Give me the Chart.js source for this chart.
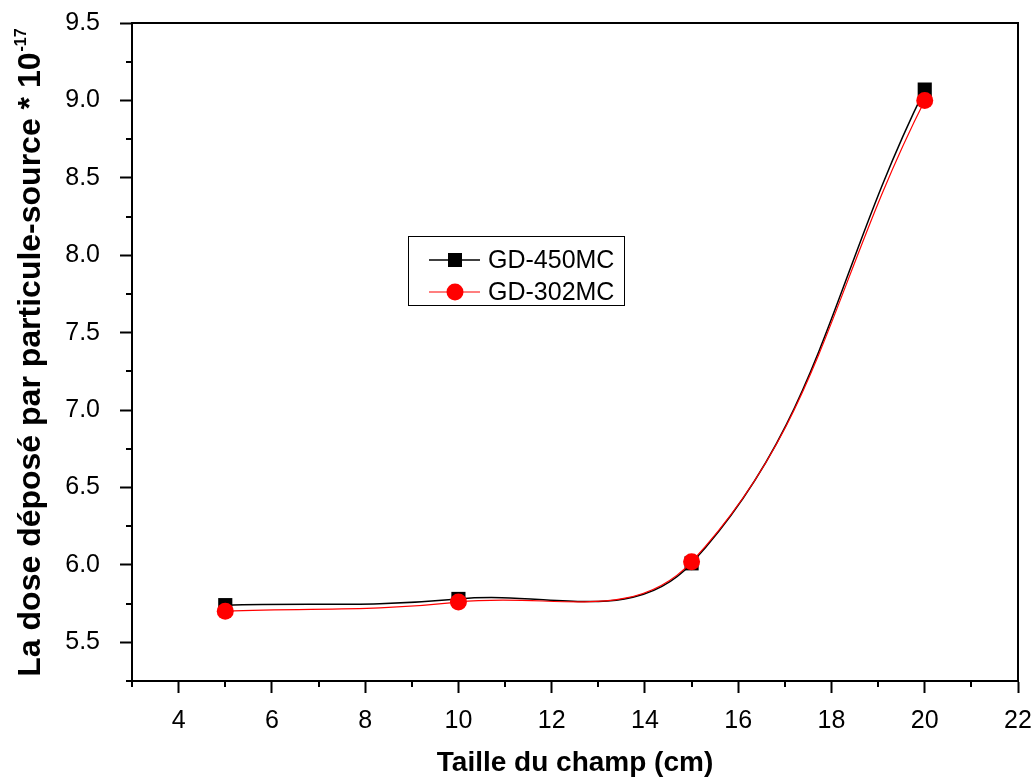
<!DOCTYPE html>
<html lang="fr">
<head>
<meta charset="UTF-8">
<title>Dose par particule-source</title>
<script src="https://cdn.jsdelivr.net/npm/chart.js"></script>
<style>
  body { margin: 0; background: #fff; }
  #wrap { width: 1036px; height: 778px; }
</style>
</head>
<body>
<div id="wrap"><canvas id="doseChart"></canvas></div>
<script>
// données
const tailles = [5, 10, 15, 20];
const gd450 = [5.74, 5.78, 6.01, 9.07];
const gd302 = [5.70, 5.76, 6.02, 9.00];
const seriesNames = ['GD-450MC', 'GD-302MC'];
const xTitle = 'Taille du champ (cm)';
const yTitle = 'La dose déposé par particule-source * 10';
const yExp = '-17';

const FONT = '"Liberation Sans", Arial, sans-serif';

function pts(ys) {
    return tailles.map((x, i) => ({ x: x, y: ys[i] }));
}

// cadre, petites graduations, titres et légende
const decor = {
    id: 'decor',
    afterDraw(chart) {
        const ctx = chart.ctx;
        const a = chart.chartArea;
        const xs = chart.scales.x, ys = chart.scales.y;
        ctx.save();
        ctx.strokeStyle = '#000';
        ctx.lineWidth = 2;

        ctx.beginPath();
        ctx.moveTo(a.left, a.top);
        ctx.lineTo(a.right, a.top);
        ctx.lineTo(a.right, a.bottom);
        ctx.stroke();

        // graduations mineures
        ctx.beginPath();
        for (let v = xs.min; v <= xs.max; v += 1) {
            if (v % 2 === 0) continue;
            const px = Math.round(xs.getPixelForValue(v));
            ctx.moveTo(px, a.bottom);
            ctx.lineTo(px, a.bottom + 6);
        }
        for (let k = Math.round(ys.min * 4); k <= Math.round(ys.max * 4); k++) {
            if (k % 2 === 0) continue;
            const py = Math.round(ys.getPixelForValue(k / 4));
            ctx.moveTo(a.left, py);
            ctx.lineTo(a.left - 6, py);
        }
        ctx.stroke();

        // titres des axes
        ctx.fillStyle = '#000';
        ctx.font = 'bold 28px ' + FONT;
        ctx.textAlign = 'center';
        ctx.textBaseline = 'alphabetic';
        ctx.fillText(xTitle, (a.left + a.right) / 2, a.bottom + 90);

        ctx.font = 'bold 32px ' + FONT;
        const w = ctx.measureText(yTitle).width;
        ctx.font = 'bold 16px ' + FONT;
        const we = ctx.measureText(yExp).width;
        ctx.translate(40, 353 + (w + we) / 2);
        ctx.rotate(-Math.PI / 2);
        ctx.textAlign = 'left';
        ctx.font = 'bold 32px ' + FONT;
        ctx.fillText(yTitle, 0, 0);
        ctx.font = 'bold 16px ' + FONT;
        ctx.fillText(yExp, w + 1, -14);
        ctx.setTransform(1, 0, 0, 1, 0, 0);

        // légende
        const lx = 408, ly = 236;
        ctx.lineWidth = 1;
        ctx.strokeRect(lx + 0.5, ly + 0.5, 216, 69);
        const rows = [
            { name: seriesNames[0], color: '#000', shape: 'rect', lw: 1.5 },
            { name: seriesNames[1], color: '#ff0000', shape: 'circle', lw: 1.2 }
        ];
        ctx.font = '25px ' + FONT;
        ctx.textBaseline = 'middle';
        rows.forEach((r, i) => {
            const cy = ly + 24 + i * 32;
            ctx.strokeStyle = r.color;
            ctx.lineWidth = r.lw;
            ctx.beginPath();
            ctx.moveTo(lx + 21, cy);
            ctx.lineTo(lx + 72, cy);
            ctx.stroke();
            ctx.fillStyle = r.color;
            ctx.beginPath();
            if (r.shape === 'rect') ctx.rect(lx + 40, cy - 7, 14, 14);
            else ctx.arc(lx + 47, cy, 8.5, 0, Math.PI * 2);
            ctx.fill();
            ctx.fillStyle = '#000';
            ctx.fillText(r.name, lx + 80, cy + 1);
        });
        ctx.restore();
    }
};

const ctx = document.getElementById('doseChart').getContext('2d');
const chart = new Chart(ctx, {
    type: 'line',
    data: {
        datasets: [{
            label: seriesNames[0],
            data: pts(gd450),
            borderColor: '#000',
            backgroundColor: '#000',
            borderWidth: 1.5,
            pointStyle: 'rect',
            pointRadius: 10,
            pointBorderWidth: 0,
            tension: 0.4,
            order: 2
        }, {
            label: seriesNames[1],
            data: pts(gd302),
            borderColor: '#ff0000',
            backgroundColor: '#ff0000',
            borderWidth: 1.2,
            pointStyle: 'circle',
            pointRadius: 8.5,
            pointBorderWidth: 0,
            tension: 0.4,
            order: 1
        }]
    },
    options: {
        responsive: true,
        maintainAspectRatio: false,
        animation: false,
        layout: { padding: { top: 23, right: 18, left: 0, bottom: 0 } },
        plugins: {
            legend: { display: false },
            tooltip: { enabled: false }
        },
        scales: {
            x: {
                type: 'linear',
                min: 3,
                max: 22,
                afterFit(s) {
                    s.height = 97;
                    s.paddingLeft = 0;
                    s.paddingRight = 0;
                },
                ticks: {
                    stepSize: 2,
                    includeBounds: false,
                    color: '#000',
                    padding: 13,
                    maxRotation: 0,
                    font: { family: FONT, size: 25 }
                },
                grid: {
                    drawOnChartArea: false,
                    tickLength: 12,
                    tickWidth: 2,
                    tickColor: '#000'
                },
                border: { color: '#000', width: 2 }
            },
            y: {
                min: 5.25,
                max: 9.5,
                afterFit(s) {
                    s.width = 132;
                    s.paddingTop = 0;
                    s.paddingBottom = 0;
                },
                ticks: {
                    stepSize: 0.5,
                    includeBounds: false,
                    color: '#000',
                    padding: 20,
                    font: { family: FONT, size: 25 },
                    callback: v => v.toFixed(1)
                },
                grid: {
                    drawOnChartArea: false,
                    tickLength: 12,
                    tickWidth: 2,
                    tickColor: '#000'
                },
                border: { color: '#000', width: 2 }
            }
        }
    },
    plugins: [decor]
});
</script>
</body>
</html>
